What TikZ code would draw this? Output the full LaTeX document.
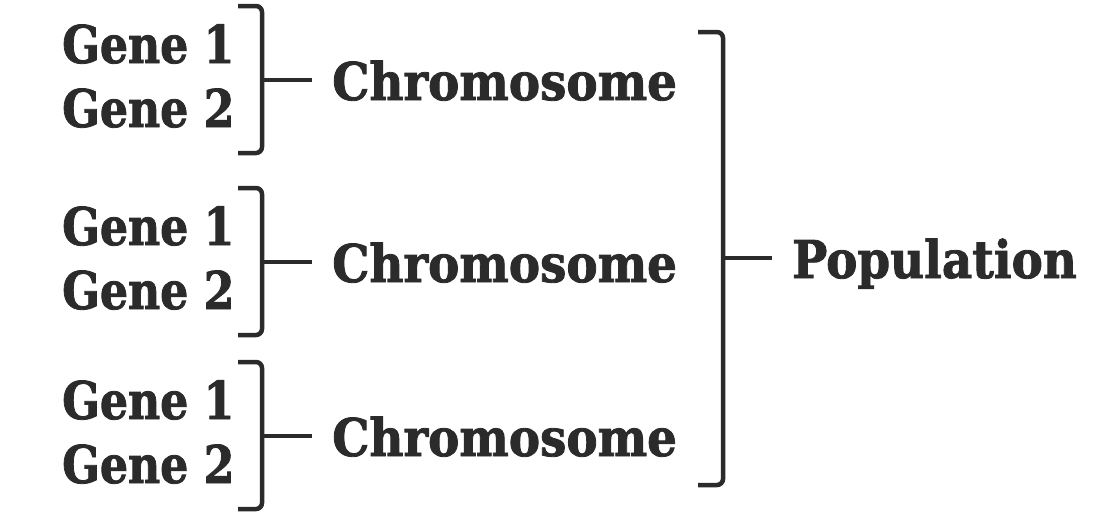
\documentclass[tikz,border=0pt]{standalone}
\usepackage{fontspec}
\setmainfont{DejaVu Serif}[FakeStretch=0.85, BoldFeatures={FakeBold=1.6}]
\newfontfamily\wideserif{DejaVu Serif}[FakeStretch=0.9, BoldFeatures={FakeBold=1.6}]
\definecolor{ink}{HTML}{2B2B2B}
\begin{document}
\begin{tikzpicture}[x=1pt,y=-1pt,
    word/.style={font=\bfseries\fontsize{52}{52}\selectfont, text=ink,
      inner sep=0pt, anchor=base west},
    bigword/.style={word, font=\wideserif\bfseries\fontsize{52}{52}\selectfont},
    brace/.style={draw=ink, line width=4.5pt, rounded corners=6pt},
    stem/.style={draw=ink, line width=4.5pt}]
  \useasboundingbox (0,0) rectangle (1114,523);
  % chromosomes, each with its two genes
  \foreach \i/\y in {1/0, 2/182, 3/356} {
    \node[word] (geneA\i) at (62, 63+\y) {Gene 1};
    \node[word] (geneB\i) at (62, 127+\y) {Gene 2};
    \node[bigword] (chrom\i) at (332, 100+\y) {Chromosome};
    \draw[brace] (238, 6+\y) -| (262, 153+\y) -- (238, 153+\y);
    \coordinate (join\i) at (262, 80+\y);
    \draw[stem] (join\i) -- ([xshift=-20pt]chrom\i.west |- join\i);
  }
  % population
  \node[bigword] (pop) at (792, 278) {Population};
  \draw[brace] (698, 32) -| (723, 485) -- (698, 485);
  \coordinate (joinP) at (723, 258);
  \draw[stem] (joinP) -- ([xshift=-20pt]pop.west |- joinP);
\end{tikzpicture}
\end{document}
